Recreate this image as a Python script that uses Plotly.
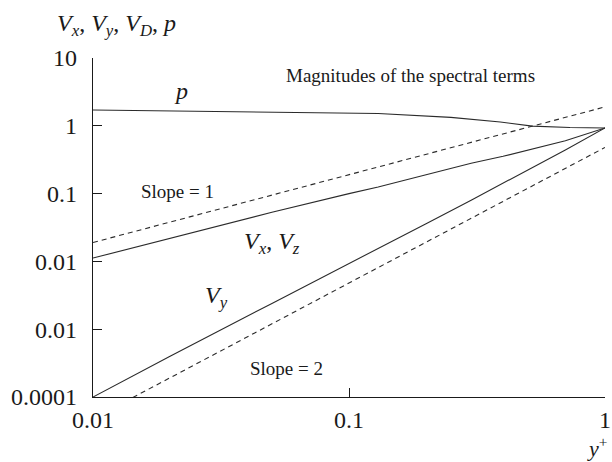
import plotly.graph_objects as go

# Wall-distance coordinate y+ for the velocity terms
y_plus = [0.01, 0.02, 0.05, 0.1, 0.13, 0.2, 0.3, 0.4, 0.52, 0.7, 1.0]

# Magnitudes of the spectral terms
vx_vals = [0.0112, 0.022, 0.053, 0.10, 0.125, 0.19, 0.28, 0.355, 0.45, 0.6, 0.93]
vy_vals = [0.0001, 0.0004, 0.0024, 0.0092, 0.0155, 0.036, 0.08, 0.142, 0.24, 0.44, 0.93]

# Pressure term, sampled on its own y+ points
p_x = [0.01, 0.026, 0.064, 0.13, 0.25, 0.39, 0.52, 0.73, 1.0]
p_vals = [1.71, 1.65, 1.60, 1.52, 1.33, 1.14, 0.99, 0.945, 0.93]

# Reference slopes
slope_x = [0.01, 1.0]
slope1_vals = [0.019, 1.9]
slope2_vals = [0.000048, 0.48]

x_ticks = [0.01, 0.1, 1]
x_ticktext = ["0.01", "0.1", "1"]
y_ticks = [10, 1, 0.1, 0.01, 0.001, 0.0001]
y_ticktext = ["10", "1", "0.1", "0.01", "0.01", "0.0001"]

FONT = "Liberation Serif, DejaVu Serif, serif"
INK = "#1a1a1a"
LINE = "#2b2b2b"

fig = go.Figure()

solid = dict(color=LINE, width=1.1)
dashed = dict(color=LINE, width=1.1, dash="5px,4px")

fig.add_trace(go.Scatter(x=p_x, y=p_vals, mode="lines", line=solid, showlegend=False))
fig.add_trace(go.Scatter(x=y_plus, y=vx_vals, mode="lines", line=solid, showlegend=False))
fig.add_trace(go.Scatter(x=y_plus, y=vy_vals, mode="lines", line=solid, showlegend=False))
fig.add_trace(go.Scatter(x=slope_x, y=slope1_vals, mode="lines", line=dashed, showlegend=False))
fig.add_trace(go.Scatter(x=slope_x, y=slope2_vals, mode="lines", line=dashed, showlegend=False))

L, R, T, B = 93, 7, 58, 65
W, H = 612, 462
PW, PH = W - L - R, H - T - B


def px(xp, yp):
    """Convert page pixel position to paper coordinates."""
    return (xp - L) / PW, (H - B - yp) / PH


def label(text, xp, yp, size, xanchor="center", yanchor="middle"):
    x, y = px(xp, yp)
    fig.add_annotation(
        x=x, y=y, xref="paper", yref="paper", text=text, showarrow=False,
        xanchor=xanchor, yanchor=yanchor, borderpad=0,
        font=dict(family=FONT, size=size, color=INK),
    )


label("Magnitudes of the spectral terms", 410, 76, 19)
label("<i>p</i>", 181, 91, 24)
label("Slope = 1", 177, 191, 19)
label("<i>V<sub>x</sub></i>, <i>V<sub>z</sub></i>", 272, 243, 24)
label("<i>V<sub>y</sub></i>", 216, 297, 24)
label("Slope = 2", 286, 368, 19)
label("<i>V<sub>x</sub></i>, <i>V<sub>y</sub></i>, <i>V<sub>D</sub></i>, <i>p</i>", 56, 25, 24, xanchor="left")
label("<i>y</i><sup>+</sup>", 597, 462, 22, yanchor="bottom")

axis_common = dict(
    type="log", automargin=False,
    showline=True, linecolor=INK, linewidth=1.3,
    ticks="inside", ticklen=9, tickwidth=1.1, tickcolor=INK,
    showgrid=False, zeroline=False,
    tickfont=dict(family=FONT, size=24, color=INK),
)

fig.update_xaxes(
    range=[-2, 0], tickvals=x_ticks, ticktext=x_ticktext,
    ticklabelstandoff=1, **axis_common,
)
fig.update_yaxes(
    range=[-4, 1], tickvals=y_ticks, ticktext=y_ticktext,
    ticklabelstandoff=10, **axis_common,
)

fig.update_layout(
    width=W, height=H,
    margin=dict(l=L, r=R, t=T, b=B, autoexpand=False),
    paper_bgcolor="white", plot_bgcolor="white",
    font=dict(family=FONT, color=INK),
)

fig.write_html("out.html")
